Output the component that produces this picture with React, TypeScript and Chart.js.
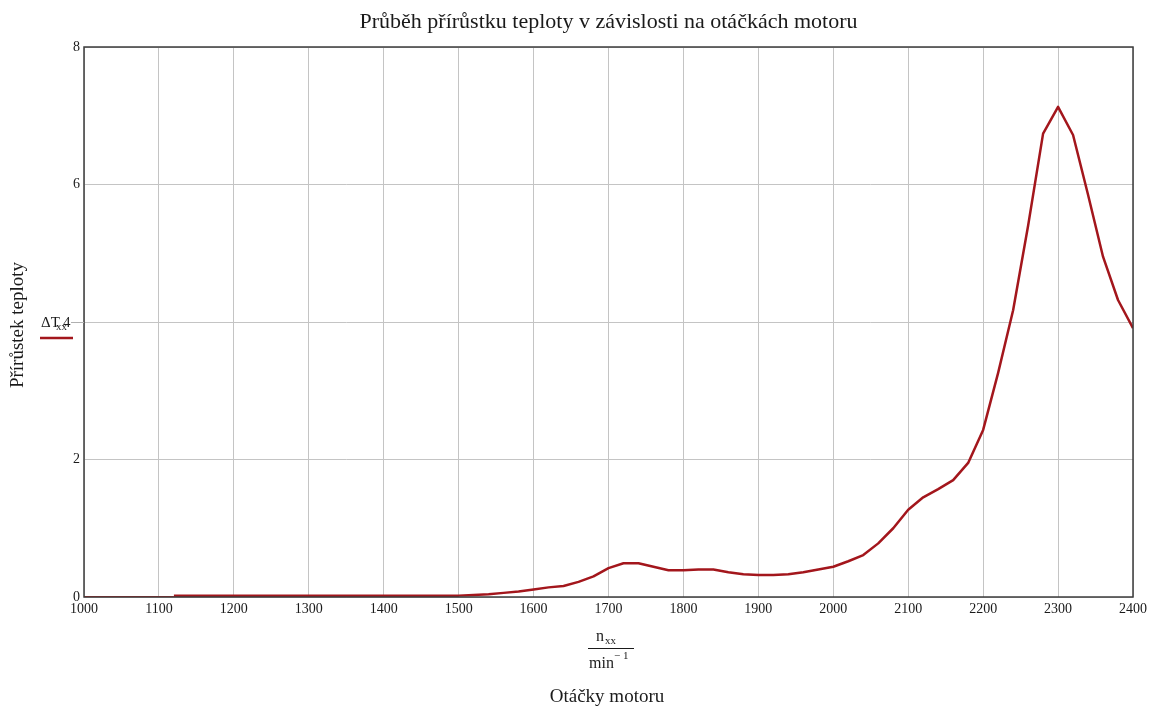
import React, { useEffect, useRef } from "react";
import { Chart, registerables } from "chart.js";

Chart.register(...registerables);

// ---- data ----
const leadRpm = [1000, 1120];
const leadDeltaT = [0, 0];

const rpm = [
  1120, 1200, 1300, 1400, 1500, 1520, 1540, 1560, 1580, 1600, 1620, 1640, 1660, 1680,
  1700, 1720, 1740, 1760, 1780, 1800, 1820, 1840, 1860, 1880, 1900, 1920, 1940, 1960,
  1980, 2000, 2020, 2040, 2060, 2080, 2100, 2120, 2140, 2160, 2180, 2200, 2220, 2240,
  2260, 2280, 2300, 2320, 2340, 2360, 2380, 2400,
];
const deltaT = [
  0.02, 0.02, 0.02, 0.02, 0.02, 0.03, 0.04, 0.06, 0.08, 0.11, 0.14, 0.16, 0.22, 0.3,
  0.42, 0.49, 0.49, 0.44, 0.39, 0.39, 0.4, 0.4, 0.36, 0.33, 0.32, 0.32, 0.33, 0.36,
  0.4, 0.44, 0.52, 0.61, 0.78, 1.0, 1.27, 1.45, 1.57, 1.7, 1.95, 2.43, 3.26, 4.17,
  5.4, 6.74, 7.13, 6.72, 5.85, 4.95, 4.32, 3.91,
];

const xTicks = [1000, 1100, 1200, 1300, 1400, 1500, 1600, 1700, 1800, 1900, 2000, 2100, 2200, 2300, 2400];
const yTicks = [0, 2, 4, 6, 8];

const TITLE = "Průběh přírůstku teploty v závislosti na otáčkách motoru";
const Y_TITLE = "Přírůstek teploty";
const X_TITLE = "Otáčky motoru";

const FONT = '"Liberation Serif", "Times New Roman", serif';
const LINE_COLOR = "#a3161c";

const overlay = {
  id: "overlay",
  afterDraw(chart: any) {
    const { ctx, chartArea: a } = chart;
    ctx.save();
    // frame
    ctx.strokeStyle = "#3c3c3c";
    ctx.lineWidth = 1.5;
    ctx.strokeRect(a.left, a.top, a.right - a.left, a.bottom - a.top);

    ctx.fillStyle = "#1a1a1a";
    ctx.textAlign = "center";
    ctx.textBaseline = "middle";
    // title
    ctx.font = `22px ${FONT}`;
    ctx.fillText(TITLE, (a.left + a.right) / 2, 22);

    // x title fraction
    ctx.textAlign = "left";
    ctx.textBaseline = "alphabetic";
    ctx.font = `16px ${FONT}`;
    ctx.fillText("n", 596, 641);
    ctx.font = `11px ${FONT}`;
    ctx.fillText("xx", 605, 644);
    ctx.strokeStyle = "#1a1a1a";
    ctx.lineWidth = 1;
    ctx.beginPath();
    ctx.moveTo(588, 648.5);
    ctx.lineTo(634, 648.5);
    ctx.stroke();
    ctx.font = `16px ${FONT}`;
    ctx.fillText("min", 589, 668);
    ctx.font = `11px ${FONT}`;
    ctx.fillText("\u2212 1", 614, 659);

    ctx.textAlign = "center";
    ctx.textBaseline = "middle";
    ctx.font = `19px ${FONT}`;
    ctx.fillText(X_TITLE, 607, 697);

    // y title
    ctx.save();
    ctx.translate(18, 325);
    ctx.rotate(-Math.PI / 2);
    ctx.font = `19px ${FONT}`;
    ctx.fillText(Y_TITLE, 0, 0);
    ctx.restore();

    // legend label ΔT_xx4
    const y4 = chart.scales.y.getPixelForValue(4);
    ctx.textAlign = "left";
    ctx.textBaseline = "alphabetic";
    ctx.font = `15px ${FONT}`;
    ctx.fillText("\u0394T", 41, y4 + 5);
    ctx.font = `11px ${FONT}`;
    ctx.fillText("xx", 56, y4 + 8);
    ctx.font = `15px ${FONT}`;
    ctx.fillText("4", 63, y4 + 5);
    ctx.strokeStyle = "#b0b0b0";
    ctx.lineWidth = 1;
    ctx.beginPath();
    ctx.moveTo(71, y4 + 0.5);
    ctx.lineTo(a.left, y4 + 0.5);
    ctx.stroke();
    // legend line
    ctx.strokeStyle = LINE_COLOR;
    ctx.lineWidth = 2.5;
    ctx.beginPath();
    ctx.moveTo(40, y4 + 16);
    ctx.lineTo(73, y4 + 16);
    ctx.stroke();
    ctx.restore();
  },
};

export default function App() {
  const ref = useRef<HTMLCanvasElement | null>(null);
  useEffect(() => {
    if (!ref.current) return;
    const chart = new Chart(ref.current, {
      type: "line",
      data: {
        datasets: [
          {
            data: leadRpm.map((x, i) => ({ x, y: leadDeltaT[i] })),
            borderColor: "#e0141a",
            borderWidth: 2,
            pointRadius: 0,
            tension: 0,
          },
          {
            data: rpm.map((x, i) => ({ x, y: deltaT[i] })),
            borderColor: LINE_COLOR,
            borderWidth: 2.5,
            pointRadius: 0,
            tension: 0,
            borderJoinStyle: "round",
          },
        ],
      },
      options: {
        animation: false,
        responsive: false,
        events: [],
        layout: { padding: { left: 0, top: 47, right: 22, bottom: 0 } },
        plugins: {
          legend: { display: false },
          title: { display: false },
          tooltip: { enabled: false },
        },
        scales: {
          x: {
            type: "linear",
            min: 1000,
            max: 2400,
            afterFit: (s: any) => {
              s.height = 112;
            },
            afterBuildTicks: (s: any) => {
              s.ticks = xTicks.map((v) => ({ value: v }));
            },
            ticks: {
              font: { family: FONT, size: 14 },
              color: "#1a1a1a",
              padding: 4,
              maxRotation: 0,
              autoSkip: false,
              callback: (v: any) => String(v),
            },
            grid: { color: "#c4c4c4", lineWidth: 1, drawTicks: false },
            border: { display: false },
          },
          y: {
            min: 0,
            max: 8,
            afterFit: (s: any) => {
              s.width = 84;
            },
            afterBuildTicks: (s: any) => {
              s.ticks = yTicks.map((v) => ({ value: v }));
            },
            ticks: {
              font: { family: FONT, size: 14 },
              color: "#1a1a1a",
              padding: 4,
              callback: (v: any) => (v === 4 ? "" : String(v)),
            },
            grid: { color: "#c4c4c4", lineWidth: 1, drawTicks: false },
            border: { display: false },
          },
        },
      },
      plugins: [overlay],
    });
    return () => chart.destroy();
  }, []);
  return (
    <div style={{ position: "fixed", left: 0, top: 0, width: 1155, height: 709, background: "#fff" }}>
      <canvas ref={ref} width={1155} height={709} />
    </div>
  );
}
